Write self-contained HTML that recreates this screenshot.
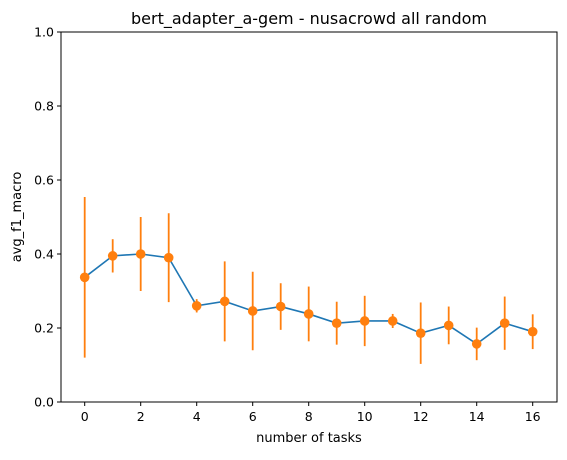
<!DOCTYPE html>
<html><head><meta charset="utf-8"><style>
html,body{margin:0;padding:0;background:#fff;}
svg text{font-family:"DejaVu Sans","Liberation Sans",sans-serif;}
</style></head><body>
<svg id="chart" width="567" height="455" xmlns="http://www.w3.org/2000/svg">
<rect width="567" height="455" fill="#fff"/>
<text x="309" y="24" text-anchor="middle" font-size="16">bert_adapter_a-gem - nusacrowd all random</text>
<text x="309" y="442" text-anchor="middle" font-size="13">number of tasks</text>
<text transform="translate(21,217) rotate(-90)" text-anchor="middle" font-size="13">avg_f1_macro</text>
<g id="ticks"></g>
<g id="marks"></g>
<rect x="61" y="32" width="496" height="370" fill="none" stroke="#000" stroke-width="1"/>
</svg>
<script>
const tasks = [0,1,2,3,4,5,6,7,8,9,10,11,12,13,14,15,16];
const means = [0.337,0.395,0.400,0.390,0.260,0.272,0.246,0.258,0.238,0.213,0.219,0.219,0.186,0.207,0.157,0.213,0.190];
const errors = [0.217,0.045,0.100,0.120,0.018,0.108,0.106,0.063,0.074,0.058,0.068,0.019,0.083,0.051,0.044,0.072,0.047];
const xTicks = [0,2,4,6,8,10,12,14,16];
const yTicks = [0.0,0.2,0.4,0.6,0.8,1.0];
const yTickLabels = ["0.0","0.2","0.4","0.6","0.8","1.0"];

const NS="http://www.w3.org/2000/svg";
const xs = v => 84.7 + v*28;
const ys = v => 402 - v*370;
function mk(tag, attrs, parent){const e=document.createElementNS(NS,tag);for(const k in attrs)e.setAttribute(k,attrs[k]);parent.appendChild(e);return e;}
const tg=document.getElementById('ticks'), mg=document.getElementById('marks');
xTicks.forEach(t=>{
  const l=mk('line',{x1:xs(t),x2:xs(t),y1:402,y2:406,stroke:'#000'},tg);
  
  
  const tx=mk('text',{x:xs(t),y:421,'text-anchor':'middle','font-size':'12.5'},tg);
  tx.textContent=t;
  
  
});
yTicks.forEach((t,i)=>{
  const l=mk('line',{x1:57,x2:61,y1:ys(t),y2:ys(t),stroke:'#000'},tg);
  
  
  const tx=mk('text',{x:54,y:ys(t)+4.5,'text-anchor':'end','font-size':'12.5'},tg);
  tx.textContent=yTickLabels[i];
  
  
});
const line=mk('polyline',{points:tasks.map((t,i)=>xs(t)+','+ys(means[i])).join(' '),fill:'none',stroke:'#1f77b4','stroke-width':'1.6'},mg);


tasks.forEach((t,i)=>{
  const e=mk('line',{x1:xs(t),x2:xs(t),y1:ys(means[i]-errors[i]),y2:ys(means[i]+errors[i]),stroke:'#ff7f0e','stroke-width':'1.8'},mg);
  
  
});
tasks.forEach((t,i)=>{
  const c=mk('circle',{cx:xs(t),cy:ys(means[i]),r:4.8,fill:'#ff7f0e'},mg);
  
  
});
</script>
</body></html>
